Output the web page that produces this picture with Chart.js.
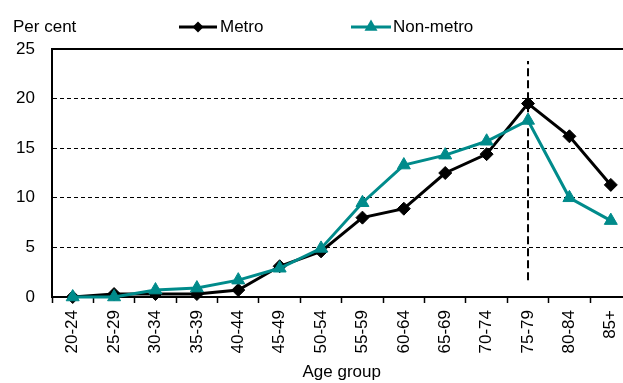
<!DOCTYPE html>
<html><head><meta charset="utf-8">
<script src="https://cdn.jsdelivr.net/npm/chart.js@4/dist/chart.umd.min.js"></script>
<style>
html,body{margin:0;padding:0;overflow:hidden;background:#fff}
#wrap{width:640px;height:383px;position:relative}
</style>
</head><body>
<div id="wrap"><canvas id="c"></canvas></div>
<script>
const categories = ['20-24','25-29','30-34','35-39','40-44','45-49','50-54','55-59','60-64','65-69','70-74','75-79','80-84','85+'];
const metro    = [0.0, 0.3, 0.3, 0.3, 0.7, 3.1, 4.6, 8.0, 8.9, 12.5, 14.4, 19.5, 16.2, 11.3];
const nonMetro = [0.0, 0.0, 0.7, 0.9, 1.7, 2.9, 4.9, 9.5, 13.3, 14.3, 15.7, 17.8, 10.0, 7.7];
const yTicks = [0, 5, 10, 15, 20, 25];
const markerCategory = '75-79';
const markerRange = [1.7, 23.8];
const seriesNames = ['Metro', 'Non-metro'];
const yAxisTitle = 'Per cent';
const xAxisTitle = 'Age group';

const FONT = "'Liberation Sans', Arial, Helvetica, sans-serif";
const TEAL = '#008B8B';

function drawMarker(ctx, style, x, y, r) {
  ctx.beginPath();
  if (style === 'rectRot') {
    ctx.moveTo(x, y - r); ctx.lineTo(x + r, y); ctx.lineTo(x, y + r); ctx.lineTo(x - r, y);
  } else {
    for (let i = 0; i < 3; i++) {
      const a = -Math.PI / 2 + i * 2 * Math.PI / 3;
      const px = x + Math.cos(a) * r, py = y + Math.sin(a) * r;
      if (i === 0) ctx.moveTo(px, py); else ctx.lineTo(px, py);
    }
  }
  ctx.closePath();
  ctx.fill();
}

const frame = {
  id: 'frame',
  beforeDatasetsDraw(chart) {
    const {ctx, chartArea: a} = chart;
    ctx.save();
    ctx.strokeStyle = '#000';
    ctx.lineWidth = 2;
    ctx.beginPath();
    ctx.moveTo(a.left, a.top);
    ctx.lineTo(a.right, a.top);
    ctx.lineTo(a.right, a.bottom);
    ctx.stroke();
    ctx.restore();
  },
  afterDraw(chart) {
    const ctx = chart.ctx;
    ctx.save();
    ctx.font = '17px ' + FONT;
    ctx.fillStyle = '#000';
    ctx.textBaseline = 'middle';
    ctx.textAlign = 'left';
    ctx.fillText(yAxisTitle, 13, 27);
    const items = [
      {ds: chart.data.datasets[0], x0: 179, x1: 217, tx: 220, r: 5.5},
      {ds: chart.data.datasets[1], x0: 351, x1: 391, tx: 393, r: 7.5}
    ];
    items.forEach(it => {
      const y = 27;
      ctx.strokeStyle = it.ds.borderColor;
      ctx.fillStyle = it.ds.borderColor;
      ctx.lineWidth = 3;
      ctx.beginPath(); ctx.moveTo(it.x0, y); ctx.lineTo(it.x1, y); ctx.stroke();
      drawMarker(ctx, it.ds.pointStyle, (it.x0 + it.x1) / 2, y, it.r);
      ctx.fillStyle = '#000';
      ctx.fillText(it.ds.label, it.tx, y);
    });
    ctx.restore();
  }
};

new Chart(document.getElementById('c'), {
  type: 'line',
  data: {
    labels: categories,
    datasets: [
      {
        label: seriesNames[0], data: metro,
        borderColor: '#000', backgroundColor: '#000', borderWidth: 3,
        pointStyle: 'rectRot', pointRadius: 6.5, pointBorderWidth: 1,
        pointBackgroundColor: '#000', pointBorderColor: '#000',
        order: 2, clip: false, tension: 0
      },
      {
        label: seriesNames[1], data: nonMetro,
        borderColor: TEAL, backgroundColor: TEAL, borderWidth: 3,
        pointStyle: 'triangle', pointRadius: 7.5, pointBorderWidth: 1,
        pointBackgroundColor: TEAL, pointBorderColor: TEAL,
        order: 1, clip: false, tension: 0
      },
      {
        label: 'marker', data: markerRange.map(v => ({x: markerCategory, y: v})),
        borderColor: '#000', borderWidth: 2, borderDash: [8, 4],
        pointRadius: 0, order: 3, clip: false
      }
    ]
  },
  plugins: [frame],
  options: {
    responsive: true,
    maintainAspectRatio: false,
    animation: false,
    events: [],
    layout: {padding: {top: 49, left: 0, right: 7, bottom: 0}},
    plugins: {legend: {display: false}, title: {display: false}, tooltip: {enabled: false}},
    scales: {
      x: {
        type: 'category',
        offset: true,
        afterFit: s => { s.height = 86; },
        grid: {offset: true, drawOnChartArea: false, drawTicks: true, tickLength: 6, tickColor: '#000', tickWidth: 1.5},
        border: {display: true, color: '#000', width: 2},
        ticks: {autoSkip: false, maxRotation: 90, minRotation: 90, padding: 7, color: '#000', font: {family: FONT, size: 17}},
        title: {display: true, text: xAxisTitle, color: '#000', padding: {top: 0, bottom: 0}, font: {family: FONT, size: 17}}
      },
      y: {
        min: yTicks[0], max: yTicks[yTicks.length - 1],
        afterFit: s => { s.width = 52; },
        afterBuildTicks: s => { s.ticks = yTicks.map(v => ({value: v})); },
        grid: {
          drawTicks: false,
          color: c => (c.tick && (c.tick.value === yTicks[0] || c.tick.value === yTicks[yTicks.length - 1])) ? 'rgba(0,0,0,0)' : '#000',
          lineWidth: 1
        },
        border: {display: true, color: '#000', width: 2, dash: [4, 3]},
        ticks: {padding: 17, color: '#000', font: {family: FONT, size: 17}}
      }
    }
  }
});
</script>
</body></html>
